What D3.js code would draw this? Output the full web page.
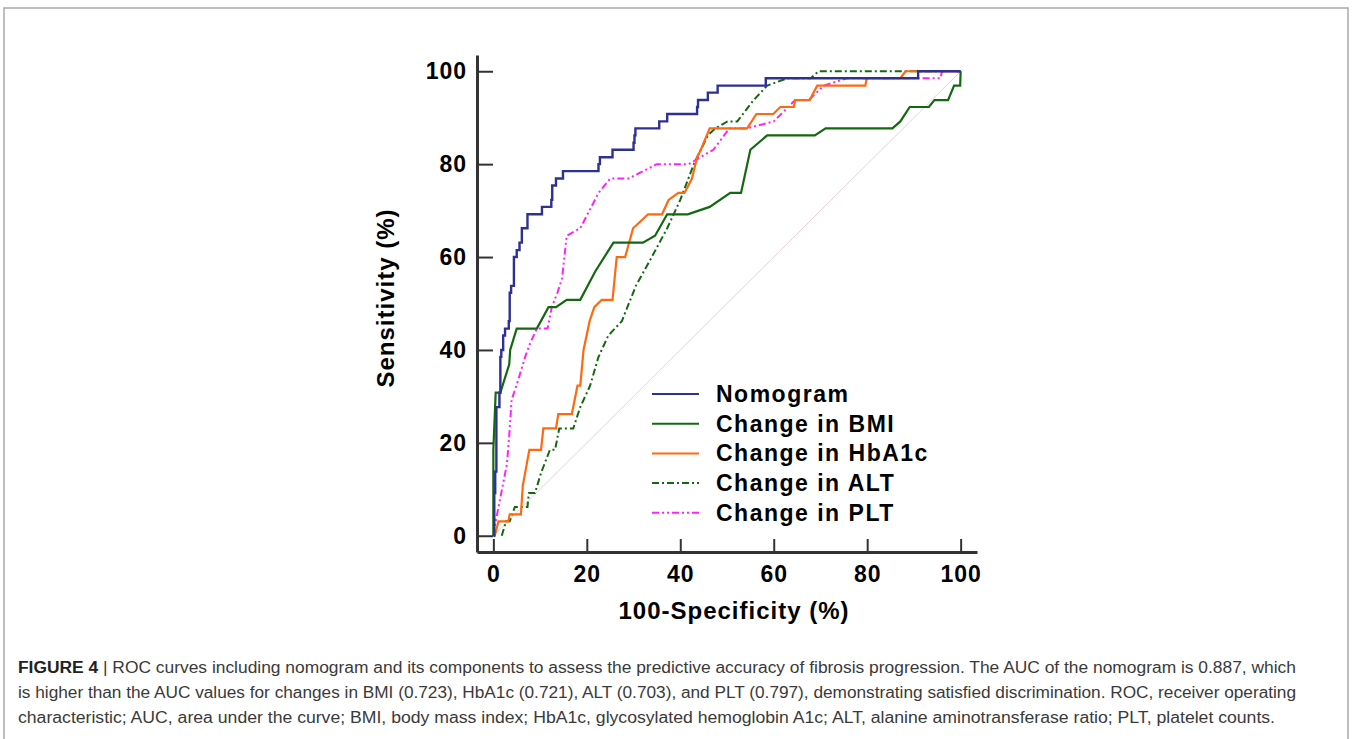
<!DOCTYPE html>
<html>
<head>
<meta charset="utf-8">
<script src="https://cdn.jsdelivr.net/npm/d3@7"></script>
<style>
  body { margin: 0; background: #fff; }
  svg { display: block; font-family: "Liberation Sans", Arial, sans-serif; }
</style>
</head>
<body>
<div id="chart"></div>
<script>
// ROC points: [100-specificity %, sensitivity %]
var nomogram = [[0,0],[0.2,9.2],[0.4,13.8],[0.65,27.7],[1.3,30.8],[1.5,38.5],[1.7,40],[2.1,43.1],[2.5,44.6],
  [3.3,46.2],[3.5,52.3],[3.8,53.8],[4.4,60],[5.0,61.5],[5.6,63.1],[6.1,66.2],[7.3,69.2],[10.4,70.8],
  [12.4,72.3],[12.6,75.4],[13.4,76.9],[14.9,78.5],[22.5,80],[22.8,81.5],[25.5,83.1],[30.0,84.6],
  [30.2,86.2],[30.4,87.7],[35.5,89.2],[37.2,90.8],[43.6,92.3],[43.8,93.8],[45.9,95.4],[48.0,96.9],
  [58.3,98.5],[90.9,100],[100,100]];

var changeBMI = [[0,0],[0,18.5],[0.5,30.8],[1.5,30.8],[3.4,36.9],[3.6,40],[5.0,44.6],[9.3,44.6],[11.8,49.2],
  [13.4,49.2],[15.7,50.8],[18.6,50.8],[21.8,56.9],[25.7,63.1],[32.0,63.1],[34.6,64.6],[37.2,69.2],
  [41.6,69.2],[46.3,70.8],[50.7,73.8],[53.0,73.8],[55.0,83.1],[58.6,86.2],[68.8,86.2],[71.1,87.7],
  [85.4,87.7],[87.1,89.2],[89.1,92.3],[93.2,92.3],[94.4,93.8],[97.3,93.8],[98.6,96.9],[99.9,96.9],[100,100]];

var changeHbA1c = [[0.3,0],[1.1,3.1],[3.2,3.1],[3.5,4.6],[5.9,4.6],[6.3,10.8],[7.7,18.5],[10.2,18.5],
  [10.7,23.1],[13.4,23.1],[13.9,26.2],[16.8,26.2],[18.0,32.3],[18.6,32.3],[19.3,40],[20.6,46.2],
  [21.6,49.2],[23.2,50.8],[25.5,50.8],[26.4,60],[28.2,60],[29.9,66.2],[33.1,69.2],[36.1,69.2],
  [37.5,72.3],[39.6,73.8],[40.9,73.8],[42.5,76.9],[43.6,81.5],[44.4,83.1],[46.3,87.7],[54.3,87.7],
  [56.3,90.8],[59.9,90.8],[61.4,92.3],[64.3,92.3],[64.6,93.8],[67.7,93.8],[69.3,96.9],[79.6,96.9],
  [79.9,98.5],[87.1,98.5],[88.2,100],[100,100]];

var changeALT = [[1.8,0],[2.7,3.1],[3.5,3.1],[4.6,6.2],[7.3,6.2],[7.6,9.2],[8.9,9.2],[10.3,13.8],[12.1,18.5],
  [13.2,18.5],[14.1,23.1],[17.1,23.1],[18.6,27.7],[20.7,32.3],[22.5,38.5],[24.6,43.1],[27.5,46.2],
  [30.5,53.8],[33.9,60],[37.2,66.2],[40.0,72.3],[42.9,80],[45.9,86.2],[47.5,87.7],[50.1,89.2],
  [52.2,89.2],[55.7,93.8],[58.6,96.9],[62.9,98.5],[67.9,98.5],[69.6,100],[100,100]];

var changePLT = [[0,0],[0.5,3.1],[2.9,15.4],[3.4,21.5],[3.9,29.2],[5.4,33.8],[6.8,38.5],[7.9,41.5],[9.3,44.6],
  [11.6,44.6],[12.5,49.2],[13.7,52.3],[14.7,55.4],[15.7,64.6],[18.6,66.2],[22.5,73.8],[25.0,76.9],
  [28.9,76.9],[35.0,80],[41.8,80],[44.3,81.5],[47.1,83.1],[50.5,87.7],[54.3,87.7],[60.0,89.2],
  [64.6,93.8],[67.5,93.8],[70.7,96.9],[75.7,98.5],[95.7,98.5],[96.0,100],[100,100]];

var seriesNames = ["Nomogram", "Change in BMI", "Change in HbA1c", "Change in ALT", "Change in PLT"];
var tickValues = [0, 20, 40, 60, 80, 100];

var captionLines = [
  ["FIGURE 4", " | ROC curves including nomogram and its components to assess the predictive accuracy of fibrosis progression. The AUC of the nomogram is 0.887, which"],
  ["", "is higher than the AUC values for changes in BMI (0.723), HbA1c (0.721), ALT (0.703), and PLT (0.797), demonstrating satisfied discrimination. ROC, receiver operating"],
  ["", "characteristic; AUC, area under the curve; BMI, body mass index; HbA1c, glycosylated hemoglobin A1c; ALT, alanine aminotransferase ratio; PLT, platelet counts."]
];

var styles = [
  {color: "#2e3192", width: 2.4, dash: null, curve: d3.curveStepAfter},
  {color: "#13690f", width: 2.2, dash: null, curve: d3.curveLinear},
  {color: "#ff6a10", width: 2.2, dash: null, curve: d3.curveLinear},
  {color: "#13690f", width: 2.0, dash: "7,3,2,3", curve: d3.curveLinear},
  {color: "#ff22ff", width: 2.0, dash: "7,3,2,3,2,3", curve: d3.curveLinear}
];
var allSeries = [nomogram, changeBMI, changeHbA1c, changeALT, changePLT];

var W = 1352, H = 739;
var svg = d3.select("#chart").append("svg")
  .attr("width", W)
  .attr("height", H);

// figure frame
svg.append("rect")
  .attr("x", 4).attr("y", 8)
  .attr("width", 1344).attr("height", 800)
  .attr("fill", "none")
  .attr("stroke", "#a9a9a9")
  .attr("stroke-width", 1.5);

var x = d3.scaleLinear().domain([-3.5, 103.5]).range([477, 977]);
var y = d3.scaleLinear().domain([-3.5, 103.5]).range([552, 55]);

// diagonal reference
svg.append("line")
  .attr("x1", x(0)).attr("y1", y(0))
  .attr("x2", x(100)).attr("y2", y(100))
  .attr("stroke", "#e6c4c4")
  .attr("stroke-width", 0.8);

var line = d3.line()
  .x(function(d) { return x(d[0]); })
  .y(function(d) { return y(d[1]); });

// draw back-to-front so the nomogram sits on top
[4, 3, 2, 1, 0].forEach(function(i) {
  var s = styles[i];
  svg.append("path")
    .datum(allSeries[i])
    .attr("fill", "none")
    .attr("stroke", s.color)
    .attr("stroke-width", s.width)
    .attr("stroke-dasharray", s.dash)
    .attr("d", line.curve(s.curve));
});

var xAxis = d3.axisBottom(x)
  .tickValues(tickValues)
  .tickSizeInner(-13)
  .tickSizeOuter(0)
  .tickPadding(14);

var yAxis = d3.axisLeft(y)
  .tickValues(tickValues)
  .tickSizeInner(-16)
  .tickSizeOuter(0)
  .tickPadding(10);

var gx = svg.append("g")
  .attr("transform", "translate(0,552)")
  .call(xAxis);
var gy = svg.append("g")
  .attr("transform", "translate(477,0)")
  .call(yAxis);

[gx, gy].forEach(function(g) {
  g.select(".domain").attr("stroke", "#333").attr("stroke-width", 3);
  g.selectAll(".tick line").attr("stroke", "#333").attr("stroke-width", 2);
  g.selectAll(".tick text")
    .attr("fill", "#000")
    .style("font-size", "23px")
    .style("font-weight", "bold")
    .style("letter-spacing", "1px")
    .style("font-family", "'Liberation Sans', Arial, sans-serif");
});

// axis titles
svg.append("text")
  .attr("x", 734).attr("y", 619)
  .attr("text-anchor", "middle")
  .style("font-size", "24px")
  .style("font-weight", "bold")
  .style("letter-spacing", "1px")
  .text("100-Specificity (%)");

svg.append("text")
  .attr("transform", "translate(394,298) rotate(-90)")
  .attr("text-anchor", "middle")
  .style("font-size", "24px")
  .style("font-weight", "bold")
  .style("letter-spacing", "1px")
  .text("Sensitivity (%)");

// legend
var legend = svg.append("g");
seriesNames.forEach(function(name, i) {
  var s = styles[i];
  var ly = 394 + i * 29.7;
  legend.append("line")
    .attr("x1", 652).attr("x2", 699)
    .attr("y1", ly).attr("y2", ly)
    .attr("stroke", s.color)
    .attr("stroke-width", 2)
    .attr("stroke-dasharray", s.dash);
  legend.append("text")
    .attr("x", 716).attr("y", ly + 8)
    .style("font-size", "23px")
    .style("font-weight", "bold")
    .style("letter-spacing", "1.5px")
    .text(name);
});

// caption
var capWidths = [1278, 1278, 1257];
captionLines.forEach(function(parts, i) {
  var t = svg.append("text")
    .attr("x", 18).attr("y", 673 + i * 25)
    .attr("fill", "#3a3a3a")
    .style("font-size", "16px")
    .attr("textLength", capWidths[i])
    .attr("lengthAdjust", "spacingAndGlyphs");
  if (parts[0]) {
    t.append("tspan").style("font-weight", "bold").attr("fill", "#222").text(parts[0]);
  }
  t.append("tspan").text(parts[1]);
});
</script>
</body>
</html>
